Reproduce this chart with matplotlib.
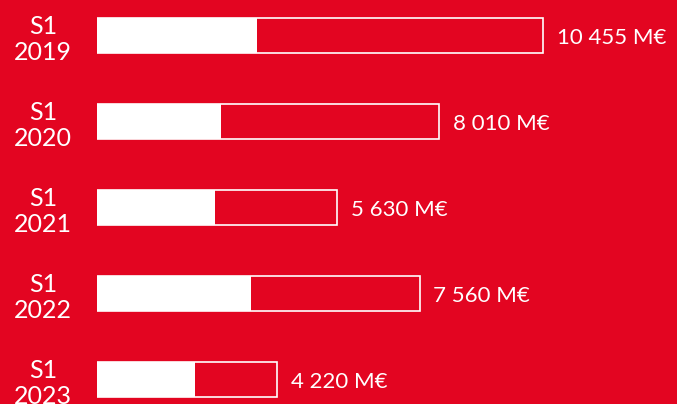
import matplotlib
matplotlib.use("Agg")
import matplotlib.pyplot as plt

# data
periods = ["S1\n2019", "S1\n2020", "S1\n2021", "S1\n2022", "S1\n2023"]
totals = [10455, 8010, 5630, 7560, 4220]
filled = [3750, 2900, 2770, 3610, 2300]
value_labels = ["10 455 M€", "8 010 M€", "5 630 M€", "7 560 M€", "4 220 M€"]

RED = "#E30521"
WHITE = "white"

fig = plt.figure(figsize=(6.77, 4.04), dpi=100)
fig.patch.set_facecolor(RED)
ax = fig.add_axes([97 / 677, 0, 580 / 677, 1])
ax.set_facecolor(RED)

pos = list(range(len(periods)))
h = 35 / 86

# white part
ax.barh(pos, filled, height=h, color=WHITE, edgecolor=WHITE, linewidth=0)
# outline of whole bar
ax.barh(pos, totals, height=h, color="none", edgecolor=WHITE, linewidth=1.2)

for i in pos:
    ax.annotate(value_labels[i], xy=(totals[i], i), xytext=(10, -2),
                textcoords="offset points", ha="left", va="center",
                color=WHITE, fontsize=16, family="Lato")
    ax.annotate(periods[i], xy=(0, i), xytext=(-39, -3),
                textcoords="offset points", ha="center", va="center",
                color=WHITE, fontsize=18, family="Lato",
                linespacing=1.15)

ax.set_xlim(0, 580 / 446 * totals[0])
ax.set_ylim(404 / 86 - 35.5 / 86, -35.5 / 86)
ax.axis("off")

fig.savefig("out.png", dpi=100, facecolor=RED)
